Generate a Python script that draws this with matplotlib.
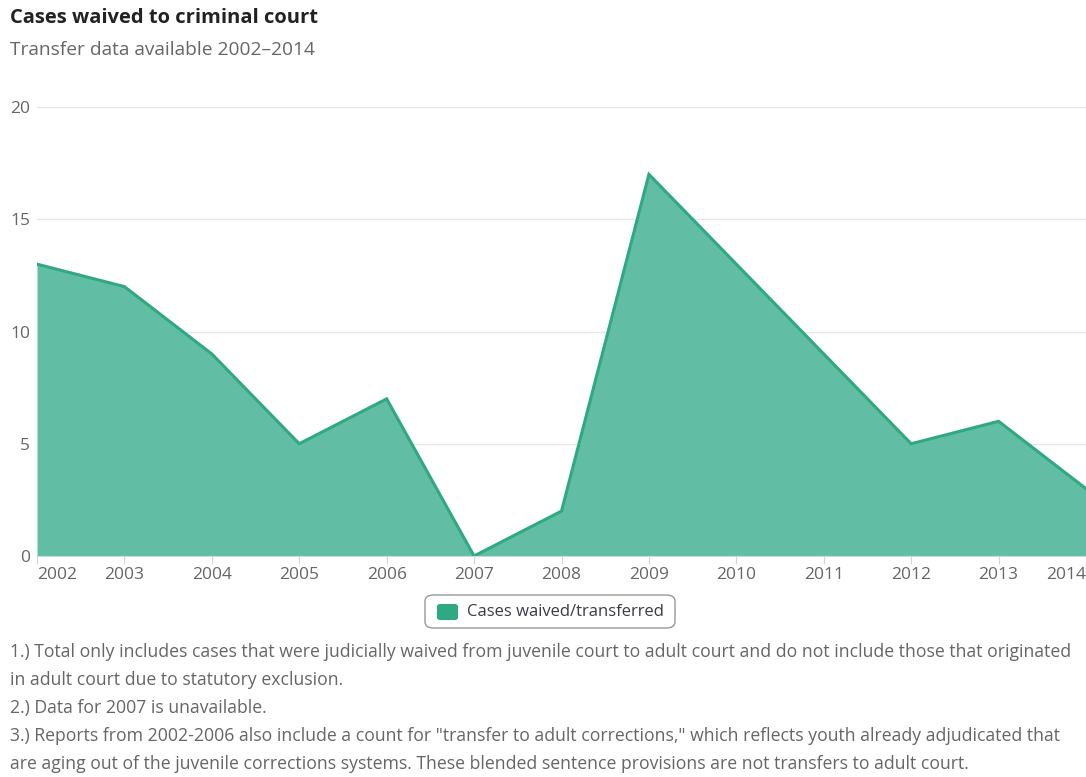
import matplotlib
matplotlib.use("Agg")
import matplotlib.pyplot as plt
from matplotlib.patches import FancyBboxPatch

plt.rcParams['font.family'] = ['Open Sans', 'DejaVu Sans']

# Data
years = [2002, 2003, 2004, 2005, 2006, 2007, 2008, 2009, 2010, 2011, 2012, 2013, 2014]
waived = [13, 12, 9, 5, 7, 0, 2, 17, 13, 9, 5, 6, 3]
y_ticks = [0, 5, 10, 15, 20]

title = "Cases waived to criminal court"
subtitle = "Transfer data available 2002\u20132014"
series_name = "Cases waived/transferred"
notes = [
    "1.) Total only includes cases that were judicially waived from juvenile court to adult court and do not include those that originated",
    "in adult court due to statutory exclusion.",
    "2.) Data for 2007 is unavailable.",
    "3.) Reports from 2002-2006 also include a count for \"transfer to adult corrections,\" which reflects youth already adjudicated that",
    "are aging out of the juvenile corrections systems. These blended sentence provisions are not transfers to adult court.",
]

line_col = "#2fa884"
fill_col = "#61bea5"
text_col = "#666666"

W, H = 1086, 777
fig = plt.figure(figsize=(W / 100, H / 100), dpi=100)
ax = fig.add_axes([37 / W, 1 - 556 / H, 1 - 37 / W, (556 - 107) / H])

ax.fill_between(years, waived, 0, color=fill_col, lw=0, zorder=2)
ax.plot(years, waived, color=line_col, lw=2.2, zorder=3, solid_joinstyle="miter")

ax.set_xlim(years[0], years[-1])
ax.set_ylim(0, 20)
ax.set_yticks(y_ticks)
ax.set_xticks(years)
ax.set_xticklabels([str(y) for y in years])
for i, lab in enumerate(ax.get_xticklabels()):
    if i == 0:
        lab.set_ha("left")
    elif i == len(years) - 1:
        lab.set_ha("right")

ax.grid(axis="y", color="#e6e6e6", lw=1, zorder=0)
for s in ["top", "right", "left"]:
    ax.spines[s].set_visible(False)
ax.spines["bottom"].set_color("#ccd6eb")
ax.spines["bottom"].set_zorder(4)
ax.tick_params(axis="y", length=0, pad=5, labelsize=12.5, labelcolor=text_col)
ax.tick_params(axis="x", length=6, color="#ccd6eb", pad=2, labelsize=12.5, labelcolor=text_col)

# titles
fig.text(10 / W, 1 - 18 / H, title, fontsize=14.5, fontweight="bold", color="#222222", va="center")
fig.text(10 / W, 1 - 50 / H, subtitle, fontsize=13.8, color=text_col, va="center")

# legend
lx0, lx1, ly0, ly1 = 425, 675, 595, 628
box = FancyBboxPatch((lx0 / W, 1 - ly1 / H), (lx1 - lx0) / W, (ly1 - ly0) / H,
                     boxstyle="round,pad=0,rounding_size=0.008", transform=fig.transFigure,
                     fc="white", ec="#999999", lw=1)
fig.patches.append(box)
sw = FancyBboxPatch((437 / W, 1 - 620 / H), 21 / W, 16 / H,
                    boxstyle="round,pad=0,rounding_size=0.003", transform=fig.transFigure,
                    fc=line_col, ec="none")
fig.patches.append(sw)
fig.text(467 / W, 1 - 612 / H, series_name, fontsize=12, color="#3a3a4a", va="center")

# footnotes
for i, line in enumerate(notes):
    fig.text(10 / W, 1 - (652 + 28 * i) / H, line, fontsize=12.7, color=text_col, va="center")

fig.savefig("out.png", dpi=100)
